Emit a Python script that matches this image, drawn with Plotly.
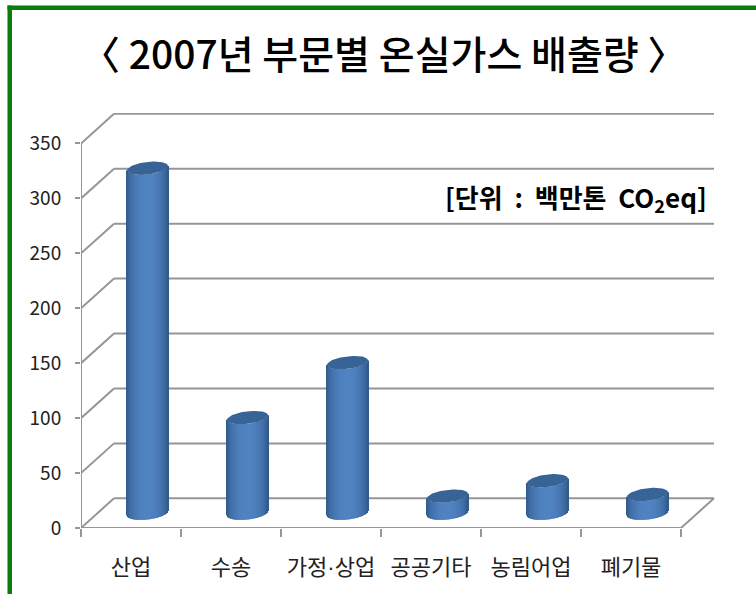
import numpy as np
import plotly.graph_objects as go

title_text = "〈 2007년 부문별 온실가스 배출량 〉"
unit_text = "[단위\u00a0\u00a0:\u00a0\u00a0백만톤\u00a0\u00a0CO<sub>2</sub>eq]"
categories = ["산업", "수송", "가정·상업", "공공기타", "농림어업", "폐기물"]
emissions = [314, 87, 137, 15.5, 29.5, 17]
y_ticks = [0, 50, 100, 150, 200, 250, 300, 350]

W, H = 756, 594
L, R, T, B = 81, 716, 112.5, 527.7      # plot area in pixels
px_x = 100.0                             # pixels per category
px_y = (B - 143) / 350                   # pixels per unit of value
x_lo = -0.5
x_hi = x_lo + (R - L) / px_x
y_hi = (B - T) / px_y
depth_x = 33 / px_x                      # depth of the floor, in axis units
depth_y = 29.7 / px_y
right_front = 5.5

FONT = "Noto Sans CJK KR"
GRID = "#969696"
semi_a, semi_b, tilt = 20.5, 6.3, 0.11   # cylinder cross-section in pixels

def mix(t):
    """Shade across the cylinder, t from -1 to 1."""
    k = (1 - abs(t) ** 2.2)
    c0, c1 = np.array([50, 90, 140]), np.array([80, 131, 194])
    r, g, b = (c0 + (c1 - c0) * k ** 0.8).astype(int)
    return f"rgb({r},{g},{b})"

strip_x, strip_base, strip_h, strip_c = [], [], [], []
base_val = depth_y / 2
offsets = np.arange(-semi_a, semi_a + 0.5, 1.0)
for i, v in enumerate(emissions):
    cx = i + depth_x / 2
    for dx in offsets:
        t = dx / semi_a
        low = (-semi_b * np.sqrt(max(0, 1 - t * t)) + tilt * dx) / px_y
        strip_x.append(cx + dx / px_x)
        strip_base.append(base_val + low)
        strip_h.append(v)
        strip_c.append(mix(t))

fig = go.Figure()
fig.add_bar(x=strip_x, y=strip_h, base=strip_base, width=1.25 / px_x,
            marker=dict(color=strip_c, line=dict(width=0)),
            hoverinfo="skip", showlegend=False)

# tops of the cylinders
theta = np.linspace(0, 2 * np.pi, 73)
for i, v in enumerate(emissions):
    cx = i + depth_x / 2
    ex = semi_a * np.cos(theta)
    ey = semi_b * np.sin(theta) + tilt * ex
    fig.add_scatter(x=cx + ex / px_x, y=base_val + v + ey / px_y, mode="lines",
                    fill="toself", fillcolor="#386396", line=dict(width=0),
                    hovertemplate=f"{categories[i]}: {v}<extra></extra>", showlegend=False)

# side wall and floor edges
edge = dict(color=GRID, width=2)
for v in y_ticks:
    fig.add_scatter(x=[x_lo, x_lo + depth_x], y=[v, v + depth_y], mode="lines", line=edge,
                    cliponaxis=False, hoverinfo="skip", showlegend=False)
fig.add_scatter(x=[x_lo, x_lo], y=[0, 350], mode="lines", line=edge,
                cliponaxis=False, hoverinfo="skip", showlegend=False)
fig.add_scatter(x=[x_lo, right_front, right_front + depth_x], y=[0, 0, depth_y], mode="lines", line=edge,
                cliponaxis=False, hoverinfo="skip", showlegend=False)

# back wall lines, under the bars
shapes = [dict(type="line", layer="below", xref="x", yref="y",
               x0=x_lo + depth_x, x1=right_front + depth_x,
               y0=v + depth_y, y1=v + depth_y, line=edge) for v in y_ticks]

def px_paper_x(p): return (p - L) / (R - L)
def px_paper_y(p): return (B - p) / (B - T)

GREEN = "#0b7d0b"
for x0, x1, y0, y1 in [(7.5, 12, 5, 594), (7.5, 756, 5, 9.5)]:
    shapes.append(dict(type="rect", xref="paper", yref="paper", layer="above",
                       x0=px_paper_x(x0), x1=px_paper_x(x1),
                       y0=px_paper_y(y0), y1=px_paper_y(y1),
                       fillcolor=GREEN, line=dict(width=0)))

annotations = [
    dict(text=title_text, xref="paper", yref="paper", x=px_paper_x(383), y=px_paper_y(51),
         xanchor="center", yanchor="middle", showarrow=False,
         font=dict(family=FONT, size=39, color="#000000", weight=500)),
    dict(text=unit_text, xref="paper", yref="paper", x=px_paper_x(709), y=px_paper_y(198),
         xanchor="right", yanchor="middle", showarrow=False,
         font=dict(family=FONT, size=26, color="#000000", weight="bold")),
]

tick_labels = [c.replace("·", '<span style="font-family:Liberation Sans">·</span>') for c in categories]

fig.update_layout(
    width=W, height=H, autosize=False,
    margin=dict(l=L, r=W - R, t=T, b=H - B, pad=0),
    paper_bgcolor="white", plot_bgcolor="white",
    barmode="overlay", showlegend=False,
    shapes=shapes, annotations=annotations,
    xaxis=dict(range=[x_lo, x_hi], tickmode="array",
               tickvals=list(range(len(categories))), ticktext=tick_labels,
               ticks="", showgrid=False, zeroline=False, showline=False,
               ticklabelstandoff=24,
               tickfont=dict(family=FONT, size=22, color="#222222"),
               minor=dict(tickmode="array", tickvals=[i - 0.5 for i in range(len(categories) + 1)],
                          ticks="outside", ticklen=8, tickcolor=GRID, tickwidth=2, showgrid=False)),
    yaxis=dict(range=[0, y_hi], tickmode="array", tickvals=y_ticks,
               ticks="outside", ticklen=5, tickcolor=GRID, tickwidth=2,
               showgrid=False, zeroline=False, showline=False,
               ticklabelstandoff=10,
               tickfont=dict(family=FONT, size=19, color="#222222")),
)
fig.write_html("out.html", config=dict(displayModeBar=False),
               post_script="document.body.style.margin='0';document.documentElement.style.overflow='hidden';")
